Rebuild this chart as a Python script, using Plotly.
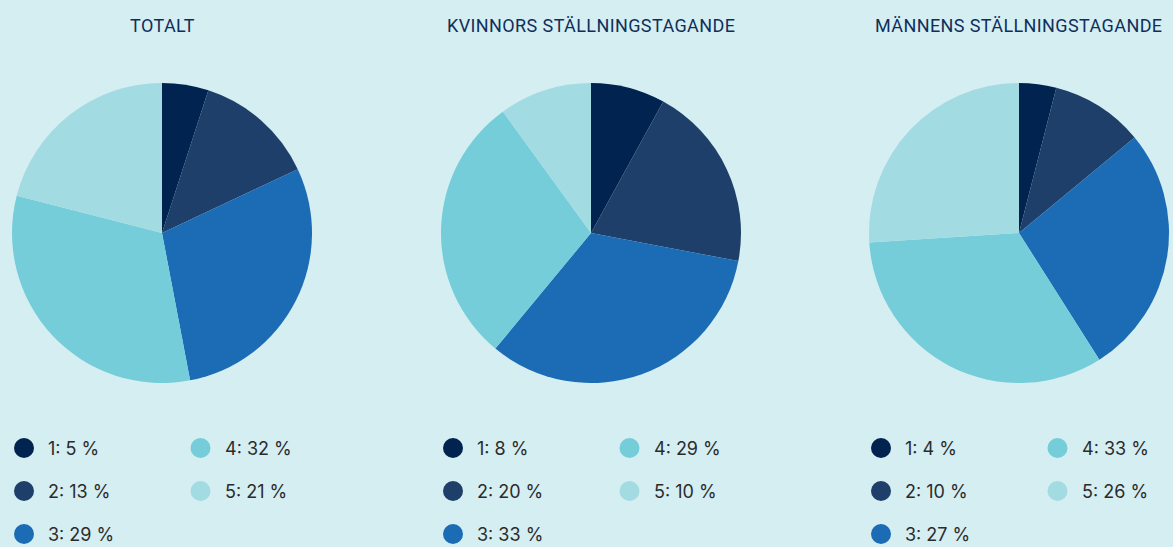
import plotly.graph_objects as go

W, H = 1173, 547

groups = ["TOTALT", "KVINNORS STÄLLNINGSTAGANDE", "MÄNNENS STÄLLNINGSTAGANDE"]
categories = ["1", "2", "3", "4", "5"]
totalt = [5, 13, 29, 32, 21]
kvinnor = [8, 20, 33, 29, 10]
mannen = [4, 10, 27, 33, 26]
series = [totalt, kvinnor, mannen]

colors = ["#00244f", "#1d3f69", "#1b6bb5", "#74cdd9", "#a3dbe3"]
bg = "#d5eef2"

centers_px = [162, 591, 1019]
radius = 150
cy = 233

fig = go.Figure()

for g, (name, vals, cx) in enumerate(zip(groups, series, centers_px)):
    fig.add_trace(go.Pie(
        labels=[f"{c}: {v} %" for c, v in zip(categories, vals)],
        values=vals,
        sort=False,
        direction="clockwise",
        rotation=0,
        textinfo="none",
        hovertemplate="%{label}<extra>" + name + "</extra>",
        marker=dict(colors=colors, line=dict(width=0)),
        showlegend=False,
        domain=dict(x=[(cx - radius) / W, (cx + radius) / W],
                    y=[(H - cy - radius) / H, (H - cy + radius) / H]),
    ))
    fig.add_annotation(
        text=f'<span style="letter-spacing:0.4px">{name}</span>',
        x=cx / W, y=1 - 26 / H, xref="paper", yref="paper",
        xanchor="center", yanchor="middle", showarrow=False,
        font=dict(family="Roboto", size=18, color="#0f2f5a"),
    )

# custom legends (grid: column-major, 3 rows)
mx, my, mc = [], [], []
for g, (vals, cx) in enumerate(zip(series, centers_px)):
    for i, (c, v) in enumerate(zip(categories, vals)):
        col, row = i // 3, i % 3
        x = cx - 138 + col * 176.5
        y = 448 + row * 43
        mx.append(x); my.append(y); mc.append(colors[i])
        fig.add_annotation(
            text=f"{c}: {v} %", x=x + 22, y=y, xref="x", yref="y",
            xanchor="left", yanchor="middle", showarrow=False,
            font=dict(family="Inter, Roboto, sans-serif", size=18, color="#2b2b2b"),
        )
fig.add_trace(go.Scatter(
    x=mx, y=my, mode="markers", hoverinfo="skip", showlegend=False,
    marker=dict(size=20, color=mc, line=dict(width=0)),
))

fig.update_layout(
    width=W, height=H,
    margin=dict(l=0, r=0, t=0, b=0),
    paper_bgcolor=bg, plot_bgcolor=bg,
    xaxis=dict(range=[0, W], domain=[0, 1], visible=False, fixedrange=True),
    yaxis=dict(range=[H, 0], domain=[0, 1], visible=False, fixedrange=True),
)

fig.write_html("out.html", config={"displayModeBar": False},
               post_script="document.body.style.margin='0';document.body.style.overflow='hidden';")
